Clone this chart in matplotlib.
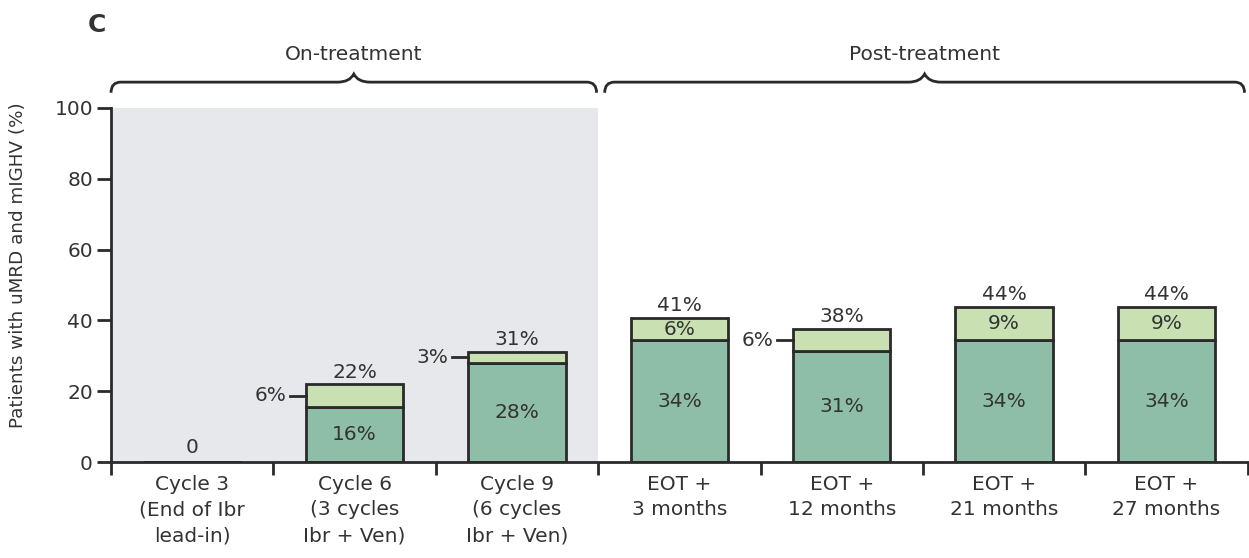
import matplotlib
matplotlib.use("Agg")
import matplotlib.pyplot as plt
from matplotlib.path import Path
from matplotlib.patches import PathPatch

plt.rcParams['font.family'] = ['DejaVu Sans']

# ----- data (n = 32 patients) -----
categories = ["Cycle 3\n(End of Ibr\nlead-in)", "Cycle 6\n(3 cycles\nIbr + Ven)",
              "Cycle 9\n(6 cycles\nIbr + Ven)", "EOT +\n3 months", "EOT +\n12 months",
              "EOT +\n21 months", "EOT +\n27 months"]
umrd_lo = [0, 15.6, 28.1, 34.4, 31.3, 34.4, 34.4]      # dark green segment
umrd_hi = [0, 6.3, 3.1, 6.3, 6.3, 9.4, 9.4]            # light green segment
lo_labels = ["", "16%", "28%", "34%", "31%", "34%", "34%"]
hi_labels = ["", "6%", "3%", "6%", "6%", "9%", "9%"]
tot_labels = ["0", "22%", "31%", "41%", "38%", "44%", "44%"]
hi_outside = [False, True, True, False, True, False, False]
phases = ["On-treatment", "Post-treatment"]

dark = "#8fbea8"
light = "#c9e0b3"
edge = "#2a2a2a"
txt = "#333333"
fs = 14.5

fig = plt.figure(figsize=(12.49, 5.58), dpi=100)
ax = fig.add_axes([0.0889, 0.172, 0.9101, 0.6345])

x = list(range(len(categories)))
ax.axvspan(-0.5, 2.5, color="#e6e8eb", lw=0, zorder=0)
ax.bar(x, umrd_lo, width=0.6, color=dark, edgecolor=edge, lw=2, zorder=2)
ax.bar(x, umrd_hi, width=0.6, bottom=umrd_lo, color=light, edgecolor=edge, lw=2, zorder=2)

for i in x:
    lo, hi = umrd_lo[i], umrd_hi[i]
    top = lo + hi
    if top == 0:
        ax.text(i, 1.5, tot_labels[i], ha="center", va="bottom", fontsize=fs, color=txt)
        continue
    ax.text(i, top + 0.8, tot_labels[i], ha="center", va="bottom", fontsize=fs, color=txt)
    ax.text(i, lo / 2, lo_labels[i], ha="center", va="center", fontsize=fs, color=txt)
    ym = lo + hi / 2
    if hi_outside[i]:
        ax.plot([i - 0.3 - 0.1, i - 0.3], [ym, ym], color=edge, lw=2, clip_on=False)
        ax.text(i - 0.42, ym, hi_labels[i], ha="right", va="center", fontsize=fs, color=txt)
    else:
        ax.text(i, ym, hi_labels[i], ha="center", va="center", fontsize=fs, color=txt)

ax.set_xlim(-0.5, 6.5)
ax.set_ylim(0, 100)
ax.set_yticks([0, 20, 40, 60, 80, 100])
ax.set_xticks([i + 0.5 for i in range(-1, 7)])
ax.set_xticklabels([])
ax.set_xticks(x, minor=True)
ax.set_xticklabels(categories, minor=True, fontsize=fs, color=txt, linespacing=1.45)
ax.tick_params(axis="x", which="minor", length=0, pad=9)
ax.tick_params(axis="x", which="major", length=9, width=2, color=edge)
ax.tick_params(axis="y", length=10, width=2, color=edge, labelsize=fs, labelcolor=txt, pad=3)
for s in ["top", "right"]:
    ax.spines[s].set_visible(False)
for s in ["left", "bottom"]:
    ax.spines[s].set_linewidth(2)
    ax.spines[s].set_color(edge)
ax.set_ylabel("Patients with uMRD and mIGHV (%)", fontsize=13.2, color=txt)
ax.yaxis.set_label_coords(-0.074, 0.555)


# curly braces above the two phases
def brace(x0, x1, label):
    yb, yl, yp = 107.3, 104.3, 109.6
    xm = (x0 + x1) / 2
    dx, dm = 0.06, 0.1
    verts = [(x0, yl), (x0, yb), (x0 + dx, yb),
             (xm - dm, yb), (xm - dm * 0.25, yb), (xm, yp),
             (xm + dm * 0.25, yb), (xm + dm, yb),
             (x1 - dx, yb), (x1, yb), (x1, yl)]
    codes = [Path.MOVETO, Path.CURVE3, Path.CURVE3,
             Path.LINETO, Path.CURVE3, Path.CURVE3,
             Path.CURVE3, Path.CURVE3,
             Path.LINETO, Path.CURVE3, Path.CURVE3]
    ax.add_patch(PathPatch(Path(verts, codes), fc="none", ec=edge, lw=2, clip_on=False))
    ax.text(xm, 112.5, label, ha="center", va="bottom", fontsize=fs, color=txt, clip_on=False)


brace(-0.5, 2.49, phases[0])
brace(2.54, 6.48, phases[1])

fig.text(0.078, 0.955, "C", fontsize=18, color=txt, ha="center", va="center", fontweight="bold")

fig.savefig("out.png", dpi=100)
